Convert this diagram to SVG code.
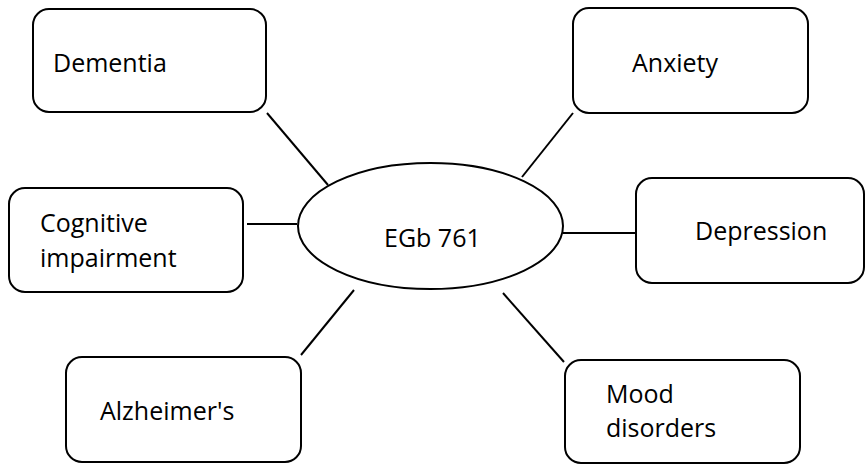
<svg xmlns="http://www.w3.org/2000/svg" width="866" height="465" viewBox="0 0 866 465">
<style>
.box{fill:#fff;stroke:#000;stroke-width:2}
.lbl{font-family:"Open Sans","Liberation Sans",sans-serif;font-size:25px;fill:#000}
.conn line{stroke:#000;stroke-width:2}
</style>
<rect width="866" height="465" fill="#fff"/>
<g class="conn" id="connectors">
<line x1="267" y1="113" x2="328" y2="185"/>
<line x1="247" y1="224" x2="297" y2="224"/>
<line x1="354" y1="290" x2="301" y2="355"/>
<line x1="522" y1="177" x2="573" y2="113"/>
<line x1="563" y1="233" x2="637" y2="233"/>
<line x1="503" y1="293" x2="564" y2="362"/>
</g>
<g id="center">
<ellipse class="box" cx="430.5" cy="226" rx="132.5" ry="63"/>
<text class="lbl" x="384" y="247">EGb 761</text>
</g>
<g id="dementia">
<rect class="box" x="33" y="9" width="233" height="103" rx="16"/>
<text class="lbl" x="53" y="72">Dementia</text>
</g>
<g id="cognitive">
<rect class="box" x="9" y="188" width="234" height="104" rx="16"/>
<text class="lbl" x="40" y="232">Cognitive</text>
<text class="lbl" x="40" y="267">impairment</text>
</g>
<g id="alzheimers">
<rect class="box" x="66" y="357" width="235" height="105" rx="16"/>
<text class="lbl" x="100" y="420">Alzheimer's</text>
</g>
<g id="anxiety">
<rect class="box" x="573" y="8" width="235" height="105" rx="16"/>
<text class="lbl" x="632" y="72">Anxiety</text>
</g>
<g id="depression">
<rect class="box" x="636" y="178" width="228" height="105" rx="16"/>
<text class="lbl" x="695" y="240">Depression</text>
</g>
<g id="mood">
<rect class="box" x="565" y="360" width="235" height="103" rx="16"/>
<text class="lbl" x="606" y="403">Mood</text>
<text class="lbl" x="606" y="437">disorders</text>
</g>
</svg>
